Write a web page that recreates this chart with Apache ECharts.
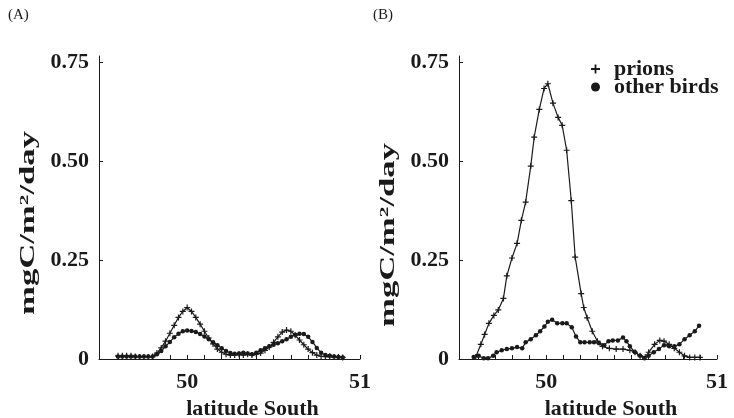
<!DOCTYPE html>
<html>
<head>
<meta charset="utf-8">
<script src="https://cdn.jsdelivr.net/npm/echarts@6/dist/echarts.min.js"></script>
<style>html,body{margin:0;padding:0;background:#fff;}#c{width:734px;height:418px;}</style>
</head>
<body>
<div id="c"></div>
<script>
// Panel A: common latitude grid
const latA = [49.600,49.625,49.650,49.675,49.700,49.725,49.750,49.775,49.800,49.825,49.850,49.875,49.900,49.925,49.950,49.975,
  50.000,50.025,50.050,50.075,50.100,50.125,50.150,50.175,50.200,50.225,50.250,50.275,50.300,50.325,50.350,50.375,
  50.400,50.425,50.450,50.475,50.500,50.525,50.550,50.575,50.600,50.625,50.650,50.675,50.700,50.725,50.750,50.775,
  50.800,50.825,50.850,50.875,50.900];
const prionsA = [0.008,0.008,0.008,0.008,0.006,0.005,0.005,0.005,0.006,0.015,0.028,0.045,0.065,0.085,0.105,0.120,
  0.130,0.120,0.105,0.088,0.070,0.053,0.038,0.025,0.017,0.012,0.010,0.010,0.012,0.010,0.012,0.010,
  0.012,0.015,0.022,0.030,0.042,0.056,0.068,0.073,0.070,0.060,0.048,0.036,0.025,0.016,0.010,0.007,
  0.006,0.006,0.005,0.005,0.004];
const otherA = [0.006,0.006,0.006,0.006,0.006,0.006,0.006,0.006,0.006,0.012,0.020,0.032,0.043,0.055,0.064,0.070,
  0.072,0.071,0.068,0.063,0.057,0.050,0.042,0.035,0.027,0.020,0.015,0.013,0.014,0.016,0.014,0.012,
  0.016,0.022,0.027,0.032,0.036,0.040,0.045,0.050,0.056,0.061,0.064,0.063,0.056,0.043,0.028,0.016,
  0.010,0.008,0.006,0.005,0.004];

// Panel B
const latPrionsB = [49.588,49.618,49.640,49.665,49.694,49.720,49.750,49.770,49.800,49.830,49.855,49.880,49.910,49.930,
  49.960,49.988,50.010,50.040,50.070,50.094,50.120,50.147,50.170,50.205,50.220,50.240,50.270,50.300,50.330,50.370,
  50.410,50.450,50.490,50.520,50.550,50.580,50.600,50.635,50.665,50.690,50.720,50.750,50.780,50.810,50.840,50.870,50.900];
const prionsB = [0.005,0.037,0.062,0.090,0.110,0.124,0.153,0.210,0.255,0.292,0.350,0.396,0.487,0.560,
  0.630,0.683,0.695,0.646,0.610,0.590,0.527,0.400,0.257,0.165,0.130,0.104,0.070,0.045,0.032,0.027,
  0.025,0.025,0.022,0.017,0.008,0.005,0.017,0.037,0.047,0.045,0.037,0.027,0.017,0.008,0.004,0.004,0.004];
const latOtherB = [49.576,49.605,49.635,49.660,49.690,49.710,49.740,49.770,49.800,49.830,49.860,49.880,49.910,49.940,
  49.965,49.990,50.010,50.035,50.065,50.095,50.120,50.150,50.175,50.200,50.225,50.255,50.280,50.310,50.340,50.365,
  50.390,50.420,50.450,50.470,50.490,50.520,50.550,50.575,50.600,50.630,50.660,50.690,50.720,50.750,50.780,50.810,
  50.840,50.870,50.895];
const otherB = [0.005,0.008,0.002,0.002,0.008,0.017,0.022,0.025,0.027,0.030,0.027,0.042,0.050,0.060,
  0.070,0.082,0.094,0.099,0.090,0.090,0.090,0.080,0.057,0.042,0.042,0.042,0.042,0.040,0.035,0.045,
  0.047,0.047,0.054,0.045,0.032,0.017,0.008,0.002,0.008,0.017,0.025,0.035,0.032,0.032,0.037,0.050,
  0.060,0.070,0.084];

const yTicks = [0, 0.25, 0.5, 0.75];
const xTicks = [49.6,49.7,49.8,49.9,50.0,50.1,50.2,50.3,50.4,50.5,50.6,50.7,50.8,50.9,51.0];
const xLabels = [50, 51];
const seriesNames = ['prions', 'other birds'];
const yName = 'mgC/m{sup|2}/day';
const xName = 'latitude South';

const FONT = '"Liberation Serif", "Times New Roman", serif';
const INK = '#1a1a1a';
const plusPath = 'path://M4,0H6V4H10V6H6V10H4V6H0V4H4Z';

function pairs(xs, ys) { return xs.map((x, i) => [x, ys[i]]); }

function xAxis(gi) {
  return {
    type: 'value', gridIndex: gi, min: 49.49, max: 51,
    axisLine: { show: true, lineStyle: { color: INK, width: 1 } },
    axisTick: { show: true, inside: true, length: 4, customValues: xTicks, lineStyle: { color: INK } },
    axisLabel: { customValues: xLabels, color: INK, fontFamily: FONT, fontWeight: 'bold', fontSize: 22, margin: 12 },
    splitLine: { show: false },
    name: xName, nameLocation: 'middle', nameGap: 37,
    nameTextStyle: { color: INK, fontFamily: FONT, fontWeight: 'bold', fontSize: 22, padding: [0, 0, 0, 46] }
  };
}
function yAxis(gi) {
  return {
    type: 'value', gridIndex: gi, min: 0, max: 0.765,
    axisLine: { show: true, lineStyle: { color: INK, width: 1 } },
    axisTick: { show: true, inside: true, length: 4, customValues: yTicks, lineStyle: { color: INK } },
    axisLabel: { customValues: yTicks, color: INK, fontFamily: FONT, fontWeight: 'bold', fontSize: 22, margin: 10,
      formatter: v => v === 0 ? '0' : v.toFixed(2) },
    splitLine: { show: false }
  };
}
function lineSeries(name, gi, data, isPlus) {
  return {
    name: name, type: 'line', xAxisIndex: gi, yAxisIndex: gi, data: data,
    symbol: isPlus ? plusPath : 'circle', symbolSize: isPlus ? 6 : 4.5,
    showSymbol: true, animation: false,
    lineStyle: { color: INK, width: 1.2 },
    itemStyle: { color: INK, borderWidth: 0 },
    emphasis: { disabled: true }
  };
}
function yLabel(cx, cy) {
  return {
    type: 'text', x: cx, y: cy, rotation: Math.PI / 2, scaleX: 1.65, scaleY: 1,
    style: {
      text: yName, fill: INK, font: 'bold 21px ' + FONT, align: 'center', verticalAlign: 'middle',
      rich: { sup: { fontSize: 13, fontWeight: 'bold', fontFamily: FONT, fill: INK, verticalAlign: 'top', lineHeight: 22 } }
    }
  };
}

const chart = echarts.init(document.getElementById('c'), null, { renderer: 'canvas' });
chart.setOption({
  backgroundColor: '#ffffff',
  animation: false,
  grid: [
    { left: 99, top: 56, width: 261, height: 303, outerBoundsMode: 'none', containLabel: false },
    { left: 459, top: 56, width: 258, height: 303, outerBoundsMode: 'none', containLabel: false }
  ],
  xAxis: [xAxis(0), xAxis(1)],
  yAxis: [yAxis(0), yAxis(1)],
  legend: {
    orient: 'vertical', left: 586, top: 53, itemGap: -4, itemWidth: 11, itemHeight: 9,
    data: [
      { name: seriesNames[0], icon: plusPath },
      { name: seriesNames[1], icon: 'circle' }
    ],
    textStyle: { color: INK, fontFamily: FONT, fontWeight: 'bold', fontSize: 22, padding: [0, 0, 0, 8] },
    selectedMode: false
  },
  series: [
    lineSeries(seriesNames[0], 0, pairs(latA, prionsA), true),
    lineSeries(seriesNames[1], 0, pairs(latA, otherA), false),
    lineSeries(seriesNames[0], 1, pairs(latPrionsB, prionsB), true),
    lineSeries(seriesNames[1], 1, pairs(latOtherB, otherB), false)
  ],
  graphic: [
    { type: 'text', left: 8, top: 8, style: { text: '(A)', fill: INK, font: '15px ' + FONT } },
    { type: 'text', left: 373, top: 8, style: { text: '(B)', fill: INK, font: '15px ' + FONT } },
    yLabel(29, 223),
    yLabel(389, 235)
  ]
});
</script>
</body>
</html>
